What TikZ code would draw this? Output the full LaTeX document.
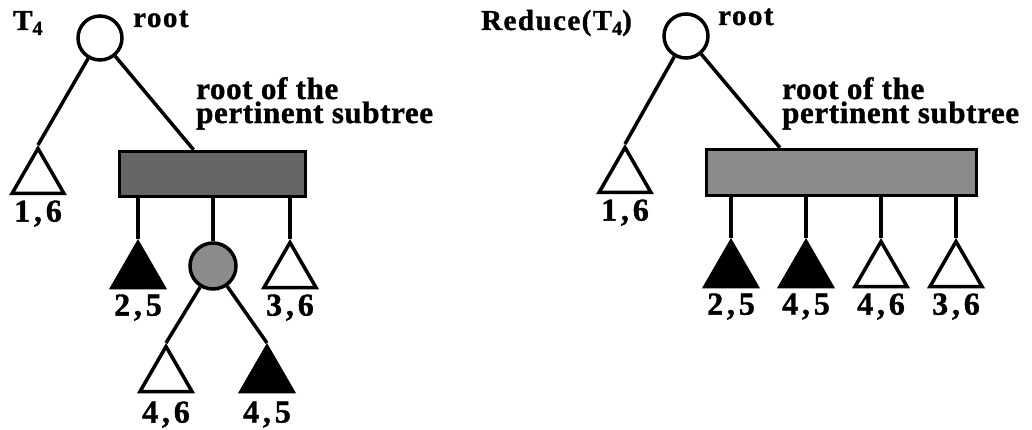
\documentclass[tikz,border=0pt]{standalone}
\usepackage{fontspec}
\setmainfont{Liberation Serif}[BoldFeatures={FakeBold=1.2}]
\usetikzlibrary{shapes,positioning,calc}

\newcommand{\lowidx}[1]{\raisebox{-5pt}{\fontsize{20}{20}\selectfont #1}}

\begin{document}
\begin{tikzpicture}[x=1pt, y=-1pt,
    inode/.style={circle, draw, line width=3.5pt, minimum size=44pt, inner sep=0pt},
    pnode/.style={rectangle, draw, line width=3.5pt, minimum width=186pt,
                  minimum height=45pt, inner sep=0pt},
    leaf/.style={regular polygon, regular polygon sides=3, draw, line width=3.5pt,
                 minimum size=60pt, inner sep=0pt},
    fullleaf/.style={leaf, fill=black},
    emptyleaf/.style={leaf, fill=white},
    lbl/.style={font=\fontsize{32}{32}\selectfont\bfseries\addfontfeature{LetterSpace=12},
                inner sep=0pt},
    title/.style={font=\fontsize{29}{29}\selectfont\bfseries\addfontfeature{LetterSpace=5},
                  inner sep=0pt, anchor=base west},
    note/.style={font=\fontsize{31}{24}\selectfont\bfseries\addfontfeature{LetterSpace=2},
                 align=left, inner sep=0pt, anchor=north west},
    edge/.style={line width=3.5pt}
]
\useasboundingbox (0,0) rectangle (1032,430);

% T4
\node[title] (tfour) at (13,30) {T\lowidx{4}};
\node[inode] (rootL) at (100,38) {};
\node[title] (rootLtxt) at (133,27) {root};

% pertinent root (T4)
\node[pnode, fill=black!60] (pertL) at (212.5,174) {};
\node[note] (pertLtxt) at (196,77) {root of the\\pertinent subtree};

% leaves and inner node (T4)
\node[emptyleaf] (t16L) at (38,178.5) {};
\node[fullleaf] (t25L) at (138,272.5) {};
\node[inode, fill=black!45, minimum size=46pt] (midL) at (213,266) {};
\node[emptyleaf] (t36L) at (290,272.5) {};
\node[emptyleaf] (t46L) at (166,376.5) {};
\node[fullleaf] (t45L) at (267,376.5) {};

\node[lbl, below=5pt of t16L] (l16L) {1,6};
\node[lbl, below=5pt of t25L] (l25L) {2,5};
\node[lbl, below=5pt of t36L] (l36L) {3,6};
\node[lbl, below=8pt of t46L] (l46L) {4,6};
\node[lbl, below=8pt of t45L] (l45L) {4,5};

% Reduce(T4)
\node[title] (reduce) at (481,30) {Reduce(T\lowidx{4})};
\node[inode] (rootR) at (686,36) {};
\node[title] (rootRtxt) at (718,25) {root};

% pertinent root (Reduce)
\node[pnode, fill=black!45, minimum width=270pt, minimum height=46pt] (pertR) at (841.5,172.5) {};
\node[note] (pertRtxt) at (782,77) {root of the\\pertinent subtree};

% leaves (Reduce)
\node[emptyleaf] (t16R) at (625,177.5) {};
\node[fullleaf] (t25R) at (731,271.5) {};
\node[fullleaf] (t45R) at (806,271.5) {};
\node[emptyleaf] (t46R) at (881,271.5) {};
\node[emptyleaf] (t36R) at (956,271.5) {};

\node[lbl, below=5pt of t16R] (l16R) {1,6};
\node[lbl, below=5pt of t25R] (l25R) {2,5};
\node[lbl, below=5pt of t45R] (l45R) {4,5};
\node[lbl, below=5pt of t46R] (l46R) {4,6};
\node[lbl, below=5pt of t36R] (l36R) {3,6};

% Edges (T4)
\draw[edge] (rootL) -- (t16L.corner 1);
\draw[edge] (rootL) -- ($(pertL.north west)!0.4!(pertL.north east)$);
\draw[edge] (t25L |- pertL.south) -- (t25L.corner 1);
\draw[edge] (midL |- pertL.south) -- (midL);
\draw[edge] (t36L |- pertL.south) -- (t36L.corner 1);
\draw[edge] (midL) -- (t46L.corner 1);
\draw[edge] (midL) -- (t45L.corner 1);

% Edges (Reduce)
\draw[edge] (rootR) -- (t16R.corner 1);
\draw[edge] (rootR) -- ($(pertR.north west)!0.275!(pertR.north east)$);
\draw[edge] (t25R |- pertR.south) -- (t25R.corner 1);
\draw[edge] (t45R |- pertR.south) -- (t45R.corner 1);
\draw[edge] (t46R |- pertR.south) -- (t46R.corner 1);
\draw[edge] (t36R |- pertR.south) -- (t36R.corner 1);

\end{tikzpicture}
\end{document}
